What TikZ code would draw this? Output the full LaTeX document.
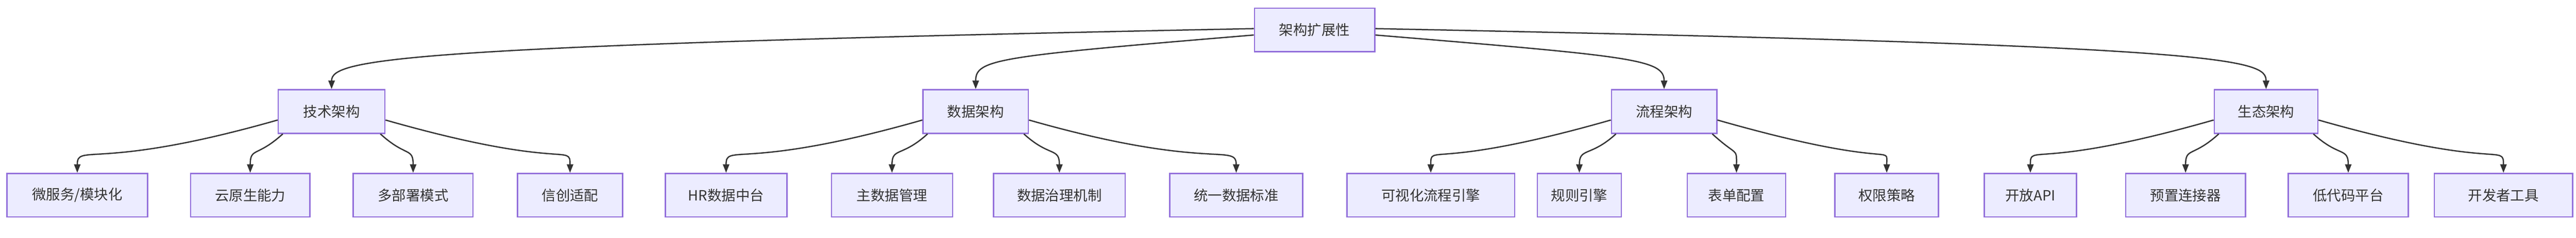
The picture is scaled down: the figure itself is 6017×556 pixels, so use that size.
\documentclass[tikz,border=0pt]{standalone}
\usepackage{fontspec}
\setmainfont{Noto Sans CJK SC}
\usetikzlibrary{arrows.meta}
\begin{document}
\begin{tikzpicture}[x=1pt,y=-1pt,
  box/.style={draw=purpleb,fill=boxfill,line width=3pt,minimum height=102pt,inner sep=0pt,font=\fontsize{33}{40}\selectfont,text=textc},
  edge/.style={draw=edgec,line width=3pt,-{Triangle[length=20pt,width=15pt]}}]
\definecolor{purpleb}{HTML}{9370DB}
\definecolor{boxfill}{HTML}{ECECFF}
\definecolor{edgec}{HTML}{333333}
\definecolor{textc}{HTML}{333333}
\useasboundingbox (0,0) rectangle (6017,556);
\newcommand\bx[5]{\node[box,minimum width=#4-#3] (#1) at ({(#3+#4)/2},#5) {#2};}
\bx{top}{架构扩展性}{2930}{3211}{70}
\bx{m1}{技术架构}{650}{899}{261}
\bx{m2}{数据架构}{2156}{2402}{261}
\bx{m3}{流程架构}{3764}{4010}{261}
\bx{m4}{生态架构}{5172}{5414}{261}
\bx{l1}{微服务/模块化}{16}{345}{457}
\bx{l2}{云原生能力}{445}{724}{457}
\bx{l3}{多部署模式}{825}{1105}{457}
\bx{l4}{信创适配}{1209}{1454}{457}
\bx{l5}{HR数据中台}{1554}{1838}{457}
\bx{l6}{主数据管理}{1942}{2225}{457}
\bx{l7}{数据治理机制}{2321}{2628}{457}
\bx{l8}{统一数据标准}{2732}{3043}{457}
\bx{l9}{可视化流程引擎}{3146}{3538}{457}
\bx{l10}{规则引擎}{3591}{3787}{457}
\bx{l11}{表单配置}{3941}{4171}{457}
\bx{l12}{权限策略}{4286}{4528}{457}
\bx{l13}{开放API}{4635}{4850}{457}
\bx{l14}{预置连接器}{4965}{5245}{457}
\bx{l15}{低代码平台}{5345}{5625}{457}
\bx{l16}{开发者工具}{5686}{6009}{457}
\draw[edge] ([yshift=3pt]top.west) .. controls +(-2000,40) and +(0,-70) .. (m1.north);
\draw[edge] ([yshift=-12pt]top.west) .. controls +(-600,50) and +(0,-70) .. (m2.north);
\draw[edge] ([yshift=-12pt]top.east) .. controls +(600,50) and +(0,-70) .. (m3.north);
\draw[edge] ([yshift=3pt]top.east) .. controls +(2000,40) and +(0,-70) .. (m4.north);
\foreach \m/\a/\b/\c/\d in {m1/l1/l2/l3/l4,m2/l5/l6/l7/l8,m3/l9/l10/l11/l12,m4/l13/l14/l15/l16}{
  \draw[edge] ([yshift=-20pt]\m.west) .. controls +(-420,120) and +(0,-70) .. (\a.north);
  \draw[edge] ([xshift=12pt]\m.south west) .. controls +(-60,55) and +(0,-60) .. (\b.north);
  \draw[edge] ([xshift=-12pt]\m.south east) .. controls +(60,55) and +(0,-60) .. (\c.north);
  \draw[edge] ([yshift=-20pt]\m.east) .. controls +(420,120) and +(0,-70) .. (\d.north);
}
\end{tikzpicture}
\end{document}
